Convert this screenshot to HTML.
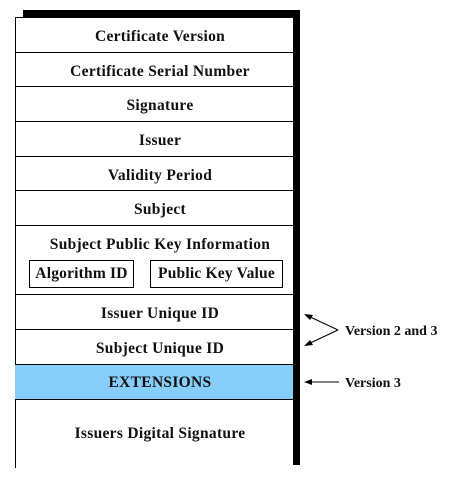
<!DOCTYPE html>
<html><head><style>
body{margin:0;background:#fff;width:450px;height:488px;position:relative;overflow:hidden;font-family:"Liberation Serif",serif;font-weight:bold;color:#111}
.r{position:absolute;left:15px;width:266px;padding-left:12px;border-top:1px solid #000;text-align:center;font-size:15.5px;letter-spacing:0.3px;white-space:nowrap}
.b{position:absolute;border:1px solid #000;font-size:15.5px;letter-spacing:0.2px;text-align:center;line-height:26px;white-space:nowrap}
.t{position:absolute;font-size:14px}
</style></head><body>
<div style="position:absolute;left:23px;top:10px;width:277px;height:7px;background:#000"></div>
<div style="position:absolute;left:293px;top:10px;width:7px;height:455px;background:#000"></div>
<div style="position:absolute;left:15px;top:17px;width:1px;height:451px;background:#000"></div>
<div class="r" style="top:17px;height:35px;line-height:37px">Certificate Version</div>
<div class="r" style="top:52px;height:34px;line-height:37px">Certificate Serial Number</div>
<div class="r" style="top:86px;height:35px;line-height:37px">Signature</div>
<div class="r" style="top:121px;height:35px;line-height:37px">Issuer</div>
<div class="r" style="top:156px;height:34px;line-height:37px">Validity Period</div>
<div class="r" style="top:190px;height:35px;line-height:37px">Subject</div>
<div class="r" style="top:225px;height:69px;line-height:37px">Subject Public Key Information</div>
<div class="b" style="left:29px;top:260px;width:103px;height:26px">Algorithm ID</div>
<div class="b" style="left:150px;top:260px;width:131px;height:26px">Public Key Value</div>
<div class="r" style="top:294px;height:35px;line-height:37px">Issuer Unique ID</div>
<div class="r" style="top:329px;height:35px;line-height:37px">Subject Unique ID</div>
<div class="r" style="top:364px;height:34px;line-height:36px;background:#87cdfa;border-bottom:1px solid #000">EXTENSIONS</div>
<div class="r" style="top:399px;height:69px;line-height:70px;border-top:none">Issuers Digital Signature</div>
<svg style="position:absolute;left:0;top:0" width="450" height="488">
<line x1="306" y1="315" x2="338" y2="330" stroke="#000"/>
<line x1="306" y1="345" x2="338" y2="330" stroke="#000"/>
<polygon points="304,314 313,315 310,320" fill="#000"/>
<polygon points="304,346 310,340 313,345" fill="#000"/>
<line x1="306" y1="382" x2="339" y2="382" stroke="#000"/>
<polygon points="304,382 312,379 312,385" fill="#000"/>
</svg>
<div class="t" style="left:345px;top:324px">Version 2 and 3</div>
<div class="t" style="left:345px;top:376px">Version 3</div>
</body></html>
